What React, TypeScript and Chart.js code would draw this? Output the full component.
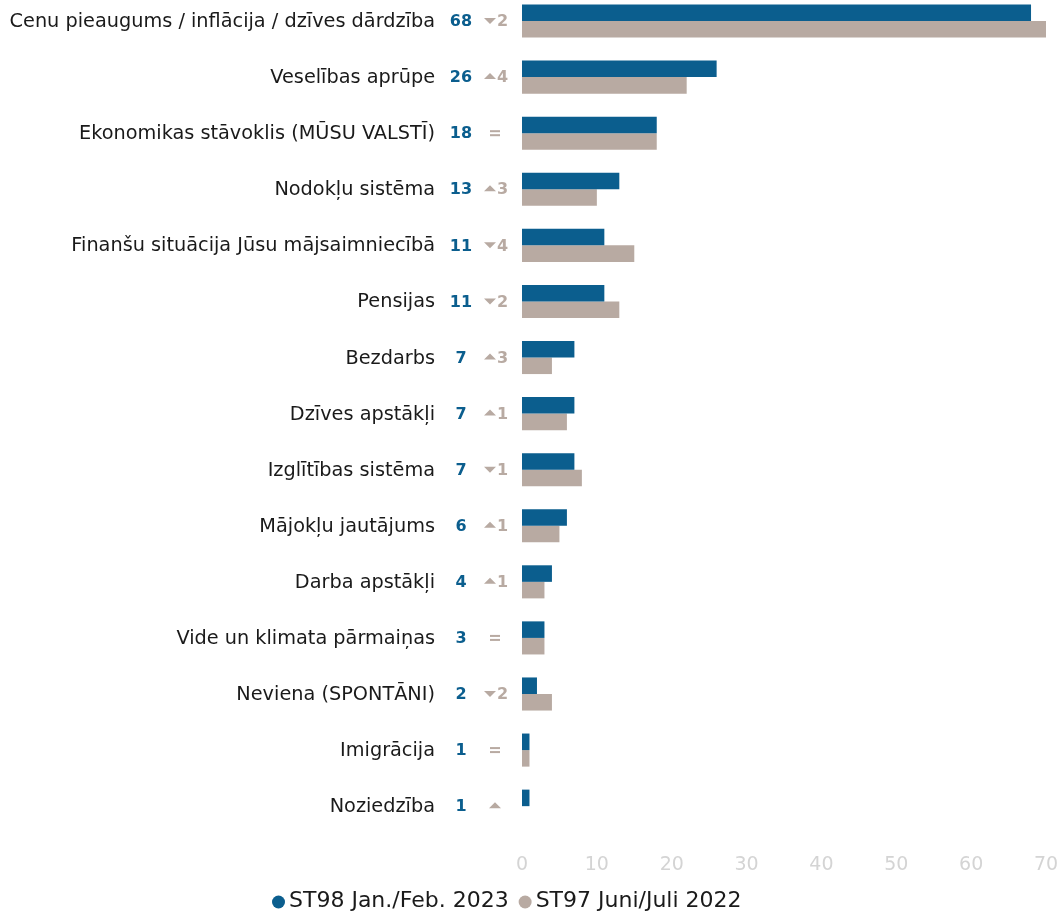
import React, { useEffect, useRef } from "react";
import { Chart, registerables } from "chart.js";
Chart.register(...registerables);

const categories = [
  "Cenu pieaugums / inflācija / dzīves dārdzība",
  "Veselības aprūpe",
  "Ekonomikas stāvoklis (MŪSU VALSTĪ)",
  "Nodokļu sistēma",
  "Finanšu situācija Jūsu mājsaimniecībā",
  "Pensijas",
  "Bezdarbs",
  "Dzīves apstākļi",
  "Izglītības sistēma",
  "Mājokļu jautājums",
  "Darba apstākļi",
  "Vide un klimata pārmaiņas",
  "Neviena (SPONTĀNI)",
  "Imigrācija",
  "Noziedzība",
];
const st98 = [68, 26, 18, 13, 11, 11, 7, 7, 7, 6, 4, 3, 2, 1, 1];
const st97: (number | null)[] = [70, 22, 18, 10, 15, 13, 4, 6, 8, 5, 3, 3, 4, 1, null];
// change vs previous wave; null = new item (arrow only)
const changes: (number | null)[] = [-2, 4, 0, 3, -4, -2, 3, 1, -1, 1, 1, 0, -2, 0, null];
const xMin = 0;
const xMax = 70;
const xStep = 10;
const seriesNames = ["ST98 Jan./Feb. 2023", "ST97 Juni/Juli 2022"];

const BLUE = "#0b5e8e";
const TAN = "#b8aaa2";
const FONT = "'DejaVu Sans', sans-serif";

const sidePlugin = {
  id: "sideLabels",
  afterDraw(chart: any) {
    const ctx = chart.ctx as CanvasRenderingContext2D;
    const yScale = chart.scales.y;
    ctx.save();
    categories.forEach((cat, i) => {
      const y = yScale.getPixelForValue(i);
      ctx.textBaseline = "middle";
      ctx.fillStyle = "#1a1a1a";
      ctx.font = `19.3px ${FONT}`;
      ctx.textAlign = "right";
      ctx.fillText(cat, 435, y + 1);

      ctx.fillStyle = BLUE;
      ctx.font = `bold 16px ${FONT}`;
      ctx.textAlign = "center";
      ctx.fillText(String(st98[i]), 461, y + 1);

      const ch = changes[i];
      ctx.fillStyle = TAN;
      if (ch === 0) {
        ctx.fillRect(490, y - 3, 10, 2);
        ctx.fillRect(490, y + 1, 10, 2);
      } else {
        const up = ch === null || ch > 0;
        const cx = ch === null ? 495 : 490;
        ctx.beginPath();
        if (up) {
          ctx.moveTo(cx - 6, y + 2);
          ctx.lineTo(cx + 6, y + 2);
          ctx.lineTo(cx, y - 4);
        } else {
          ctx.moveTo(cx - 6, y - 3);
          ctx.lineTo(cx + 6, y - 3);
          ctx.lineTo(cx, y + 3);
        }
        ctx.closePath();
        ctx.fill();
        if (ch !== null) {
          ctx.font = `bold 16px ${FONT}`;
          ctx.textAlign = "left";
          ctx.fillText(String(Math.abs(ch)), 497, y + 1);
        }
      }
    });

    // legend
    const ly = 908;
    ctx.font = `22px ${FONT}`;
    ctx.textAlign = "left";
    ctx.textBaseline = "middle";
    const colors = [BLUE, TAN];
    let x = 272;
    seriesNames.forEach((name, k) => {
      const w = ctx.measureText(name).width;
      ctx.fillStyle = colors[k];
      ctx.beginPath();
      ctx.arc(x + 6.5, ly + 1, 6.5, 0, Math.PI * 2);
      ctx.fill();
      ctx.fillStyle = "#1a1a1a";
      ctx.fillText(name, x + 17, ly);
      x += 17 + w + 10;
    });
    ctx.restore();
  },
};

export default function App() {
  const ref = useRef<HTMLCanvasElement>(null);
  useEffect(() => {
    if (!ref.current) return;
    const chart = new Chart(ref.current, {
      type: "bar",
      data: {
        labels: categories,
        datasets: [
          {
            label: seriesNames[0],
            data: st98,
            backgroundColor: BLUE,
            barPercentage: 1,
            categoryPercentage: 0.59,
            clip: false as any,
          },
          {
            label: seriesNames[1],
            data: st97 as any,
            backgroundColor: TAN,
            barPercentage: 1,
            categoryPercentage: 0.59,
            clip: false as any,
          },
        ],
      },
      options: {
        indexAxis: "y",
        animation: false,
        responsive: false,
        maintainAspectRatio: false,
        layout: { padding: { left: 522, right: 16, top: 0, bottom: 17 } },
        plugins: { legend: { display: false }, tooltip: { enabled: false } },
        scales: {
          x: {
            min: xMin,
            max: xMax,
            grid: { display: false, drawTicks: false },
            border: { display: false },
            afterFit: (scale: any) => {
              scale.paddingRight = 0;
              scale.paddingLeft = 0;
            },
            ticks: {
              stepSize: xStep,
              padding: 19,
              color: "#d4d4d4",
              font: { family: FONT, size: 19 },
            },
          },
          y: {
            grid: { display: false, drawTicks: false },
            border: { display: false },
            ticks: { display: false },
          },
        },
      },
      plugins: [sidePlugin],
    });
    return () => chart.destroy();
  }, []);
  return (
    <div style={{ position: "absolute", left: 0, top: -7, width: 1062, height: 919 }}>
      <canvas ref={ref} width={1062} height={919} />
    </div>
  );
}
